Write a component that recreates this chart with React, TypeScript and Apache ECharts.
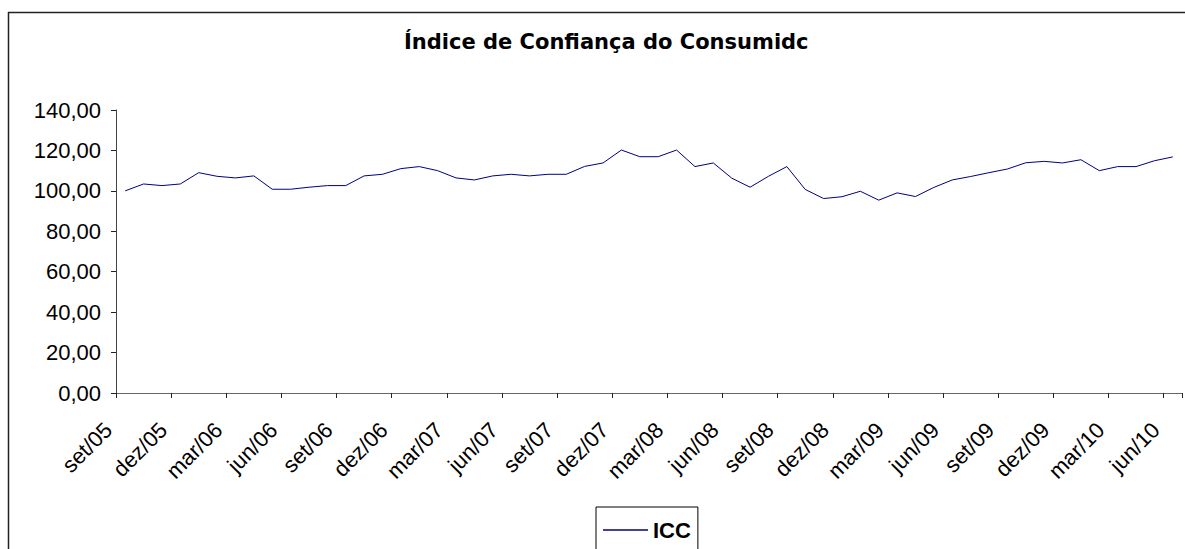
import React, { useEffect, useRef } from "react";
import * as echarts from "echarts";

const months: string[] = [
  "set/05", "out/05", "nov/05", "dez/05", "jan/06", "fev/06", "mar/06", "abr/06", "mai/06", "jun/06",
  "jul/06", "ago/06", "set/06", "out/06", "nov/06", "dez/06", "jan/07", "fev/07", "mar/07", "abr/07",
  "mai/07", "jun/07", "jul/07", "ago/07", "set/07", "out/07", "nov/07", "dez/07", "jan/08", "fev/08",
  "mar/08", "abr/08", "mai/08", "jun/08", "jul/08", "ago/08", "set/08", "out/08", "nov/08", "dez/08",
  "jan/09", "fev/09", "mar/09", "abr/09", "mai/09", "jun/09", "jul/09", "ago/09", "set/09", "out/09",
  "nov/09", "dez/09", "jan/10", "fev/10", "mar/10", "abr/10", "mai/10", "jun/10",
];

const icc: number[] = [
  100.0, 103.4, 102.6, 103.4, 109.0, 107.2, 106.4, 107.4, 100.8, 100.8,
  101.8, 102.6, 102.6, 107.4, 108.2, 111.0, 112.0, 110.0, 106.4, 105.4,
  107.4, 108.2, 107.4, 108.2, 108.2, 112.1, 113.8, 120.2, 116.9, 116.9,
  120.2, 112.0, 113.8, 106.3, 101.8, 107.2, 112.0, 100.7, 96.2, 97.1,
  99.8, 95.4, 99.0, 97.2, 101.7, 105.4, 107.1, 109.0, 110.8, 113.9,
  114.6, 113.8, 115.4, 110.0, 112.0, 112.0, 114.9, 116.8,
];

const titleText = "Índice de Confiança do Consumidc";
const seriesName = "ICC";
const yMin = 0;
const yMax = 140;
const yStep = 20;

export default function App() {
  const ref = useRef<HTMLDivElement>(null);
  useEffect(() => {
    if (!ref.current) return;
    const chart = echarts.init(ref.current, undefined, { renderer: "svg" });
    const font = "'Liberation Sans', Arial, sans-serif";
    // label axis: one slot per category boundary (Excel puts rotated labels at the tick)
    const boundaryLabels = months.concat([""]);
    chart.setOption({
      animation: false,
      backgroundColor: "#ffffff",
      title: {
        text: titleText,
        left: 404,
        top: 31,
        padding: 0,
        textStyle: { fontFamily: "'DejaVu Sans', sans-serif", fontSize: 21, fontWeight: "bold", color: "#000" },
      },
      legend: {
        left: 596,
        top: 507,
        data: [seriesName],
        icon: "rect",
        itemWidth: 45,
        itemHeight: 1.5,
        itemGap: 0,
        padding: [12, 7, 12, 7],
        borderColor: "#000",
        borderWidth: 1,
        borderRadius: 0,
        textStyle: { fontFamily: font, fontSize: 22, fontWeight: "bold", color: "#000", lineHeight: 18 },
      },
      grid: { left: 116, right: 3, top: 110, bottom: 156, containLabel: false },
      xAxis: [
        {
          type: "category",
          data: months,
          boundaryGap: true,
          axisLine: { lineStyle: { color: "#666", width: 1 } },
          axisTick: { show: true, interval: 2, length: 5, lineStyle: { color: "#222" } },
          axisLabel: { show: false },
          splitLine: { show: false },
        },
        {
          type: "category",
          data: boundaryLabels,
          boundaryGap: false,
          position: "bottom",
          axisLine: { show: false },
          axisTick: { show: false },
          axisLabel: {
            interval: 2,
            rotate: 45,
            margin: 41,
            align: "right",
            verticalAlign: "bottom",
            fontFamily: font,
            fontSize: 22,
            color: "#000",
          },
          splitLine: { show: false },
        },
      ],
      yAxis: {
        type: "value",
        min: yMin,
        max: yMax,
        interval: yStep,
        axisLine: { show: true, lineStyle: { color: "#444", width: 1 } },
        axisTick: { show: true, length: 5, lineStyle: { color: "#222" } },
        axisLabel: {
          margin: 15,
          fontFamily: font,
          fontSize: 22,
          color: "#000",
          formatter: (v: number) => v.toFixed(2).replace(".", ","),
        },
        splitLine: { show: false },
      },
      graphic: [
        { type: "line", shape: { x1: 8, y1: 12.5, x2: 1185, y2: 12.5 }, style: { stroke: "#222", lineWidth: 1.5 } },
        { type: "line", shape: { x1: 8.5, y1: 12, x2: 8.5, y2: 549 }, style: { stroke: "#222", lineWidth: 1.5 } },
      ],
      series: [
        {
          name: seriesName,
          type: "line",
          xAxisIndex: 0,
          data: icc,
          symbol: "none",
          lineStyle: { color: "#000080", width: 1 },
          itemStyle: { color: "#000080" },
        },
      ],
    });
    return () => chart.dispose();
  }, []);
  return <div ref={ref} style={{ position: "absolute", left: 0, top: 0, width: 1185, height: 549 }} />;
}
